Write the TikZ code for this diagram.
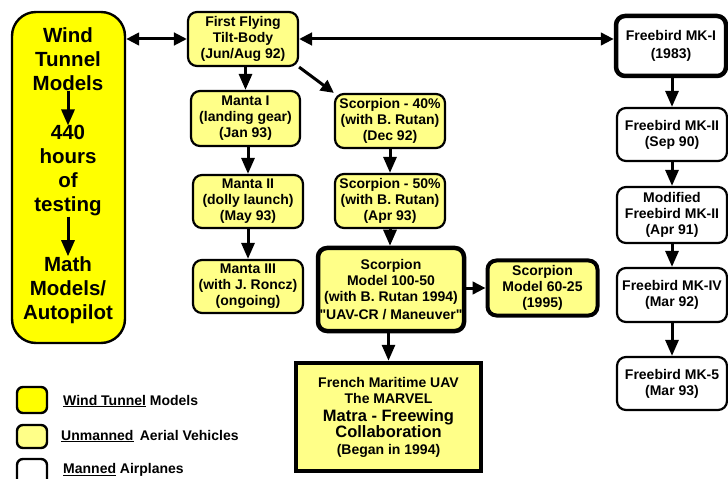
\documentclass[tikz,border=0pt]{standalone}
\usepackage{fontspec}
\setmainfont{Liberation Sans}
\newfontfamily\plainarial{Liberation Sans}
\usetikzlibrary{arrows.meta}
\definecolor{wtyel}{RGB}{255,255,0}
\definecolor{uavyel}{RGB}{255,255,136}
\tikzset{
  box/.style={draw, rounded corners=9bp, line width=2.2bp, align=center, inner sep=1bp,
    font=\plainarial\bfseries\fontsize{14bp}{16bp}\selectfont},
  uav/.style={box, fill=uavyel},
  man/.style={box, fill=white},
  thick box/.style={line width=4.5bp},
  wttext/.style={align=center, inner sep=0bp, font=\bfseries\fontsize{20.5bp}{24bp}\selectfont},
  harr/.style={line width=3bp, -{Triangle[length=13bp,width=12.5bp]}},
  varr/.style={line width=3bp, -{Triangle[length=16bp,width=13bp]}},
  darr/.style={line width=3bp, {Triangle[length=13bp,width=12.5bp]}-{Triangle[length=13bp,width=12.5bp]}},
  legbox/.style={draw, rounded corners=6bp, line width=2.4bp, minimum width=30bp, minimum height=26bp, inner sep=0bp},
  legtext/.style={anchor=west, inner sep=0bp, font=\bfseries\fontsize{14bp}{16bp}\selectfont},
}
\begin{document}
\begin{tikzpicture}[x=1bp,y=-1bp]
\useasboundingbox (0,0) rectangle (728,479);
% wind tunnel column
\node[draw, rounded corners=24bp, line width=2.4bp, fill=wtyel, minimum width=113bp, minimum height=331bp] (wt) at (68.5,177.5) {};
\node[wttext] (wt1) at (68,59) {Wind\\Tunnel\\Models};
\node[wttext] (wt2) at (68,171) {440\\hours\\of\\testing};
\node[wttext] (wt3) at (68,290) {Math\\Models/\\Autopilot};
\draw[varr] (wt1.south) -- (wt2.north);
\draw[varr] (wt2.south) -- (wt3.north);
% UAV column
\node[uav, minimum width=110bp, minimum height=54bp] (ff) at (243,39) {First Flying\\Tilt-Body\\(Jun/Aug 92)};
\node[uav, minimum width=109bp, minimum height=55bp] (m1) at (245.5,118.5) {Manta I\\(landing gear)\\(Jan 93)};
\node[uav, minimum width=110bp, minimum height=53bp] (m2) at (248,201.5) {Manta II\\(dolly launch)\\(May 93)};
\node[uav, minimum width=110bp, minimum height=53bp] (m3) at (248,286.5) {Manta III\\(with J. Roncz)\\(ongoing)};
\node[uav, minimum width=110bp, minimum height=54bp] (s40) at (390,121) {Scorpion - 40\%\\(with B. Rutan)\\(Dec 92)};
\node[uav, minimum width=110bp, minimum height=54bp] (s50) at (390,201) {Scorpion - 50\%\\(with B. Rutan)\\(Apr 93)};
\node[uav, thick box, minimum width=146bp, minimum height=83bp] (s100) at (391,289.5) {Scorpion\\Model 100-50\\(with B. Rutan 1994)\\[2bp]"UAV-CR / Maneuver"};
\node[uav, line width=4bp, minimum width=110bp, minimum height=55bp] (s60) at (542.5,288) {Scorpion\\Model 60-25\\(1995)};
\node[draw, line width=4.5bp, fill=uavyel, align=center, inner sep=1bp, minimum width=185bp, minimum height=108bp,
  font=\plainarial\bfseries\fontsize{14bp}{16bp}\selectfont] (fr) at (388.5,417)
  {French Maritime UAV\\The MARVEL\\[2bp]{\fontsize{16.5bp}{16bp}\selectfont Matra - Freewing}\\{\fontsize{16.5bp}{16bp}\selectfont Collaboration}\\[1bp](Began in 1994)};
% manned column
\node[man, thick box, minimum width=110bp, minimum height=60bp] (f1) at (671,46) {Freebird MK-I\\[2bp](1983)};
\node[man, minimum width=110bp, minimum height=53bp] (f2) at (672,134.5) {Freebird MK-II\\(Sep 90)};
\node[man, minimum width=110bp, minimum height=56bp] (f3) at (672,215) {Modified\\Freebird MK-II\\(Apr 91)};
\node[man, minimum width=110bp, minimum height=54bp] (f4) at (672,295) {Freebird MK-IV\\(Mar 92)};
\node[man, minimum width=110bp, minimum height=53bp] (f5) at (672,383.5) {Freebird MK-5\\(Mar 93)};
% connectors
\draw[darr] (wt.east |- ff.west) -- (ff.west);
\draw[darr] (ff.east) -- (f1.west |- ff.east);
\draw[varr] (ff.south -| m1.north) -- (m1.north);
\draw[harr] (ff.south east) -- (s40.north west);
\draw[varr] (m1.south -| m2.north) -- (m2.north);
\draw[varr] (m2.south) -- (m3.north);
\draw[varr] (s40.south) -- (s50.north);
\draw[varr] (s50.south) -- (s100.north -| s50.south);
\draw[harr] (s100.east |- s60.west) -- (s60.west);
\draw[varr] (s100.south -| fr.north) -- (fr.north);
\draw[varr] (f1.south -| f2.north) -- (f2.north);
\draw[varr] (f2.south) -- (f3.north);
\draw[varr] (f3.south) -- (f4.north);
\draw[varr] (f4.south) -- (f5.north);
% legend
\node[legbox, fill=wtyel] (lg1) at (32,400) {};
\node[legbox, fill=uavyel, minimum height=23bp] (lg2) at (32,436.5) {};
\node[legbox, fill=white] (lg3) at (32,472) {};
\node[legtext] (lt1) at (63,401) {\underline{Wind Tunnel} Models};
\node[legtext] (lt2) at (61,436) {\underline{Unmanned}\, Aerial Vehicles};
\node[legtext] (lt3) at (63,470) {\underline{Manned} Airplanes};
\end{tikzpicture}
\end{document}
